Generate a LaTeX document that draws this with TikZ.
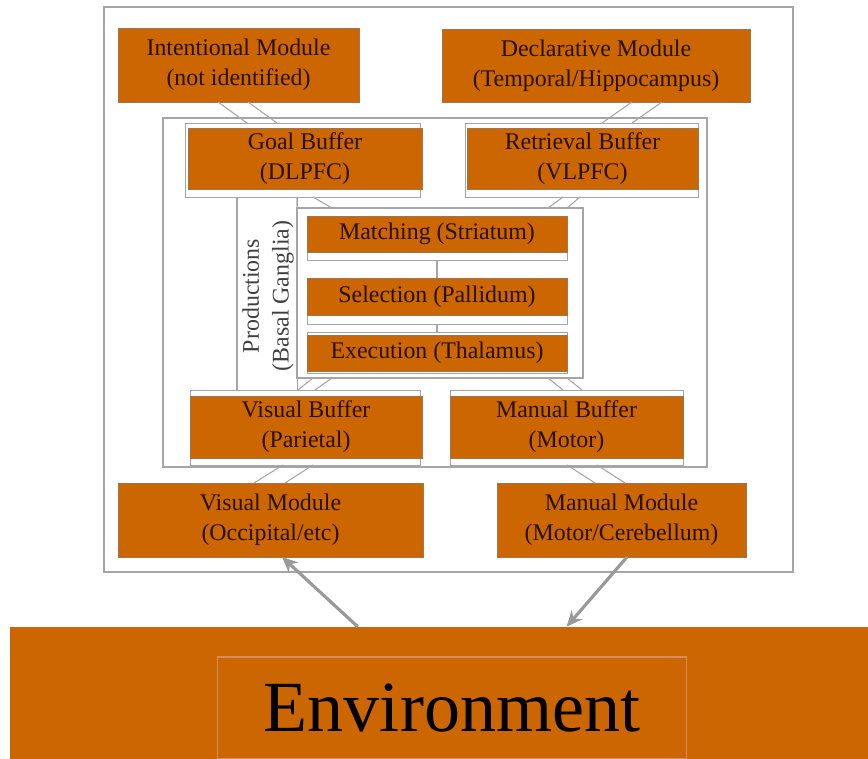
\documentclass[tikz,border=0pt]{standalone}
\usepackage{fontspec}
\setmainfont{Liberation Serif}
\usetikzlibrary{arrows.meta,positioning}
\definecolor{actr}{RGB}{204,102,0}
\definecolor{actrtext}{RGB}{40,16,6}
\definecolor{wire}{RGB}{165,165,165}
\definecolor{envline}{RGB}{214,142,96}
\tikzset{
  module/.style={draw=gray!60!actr, fill=actr, text=actrtext, align=center, inner sep=0pt, outer sep=0pt, font=\fontsize{13.6}{17}\selectfont},
  backbox/.style={draw=wire, fill=white, inner sep=0pt, outer sep=0pt},
  frame/.style={draw=wire, line width=0.9pt, inner sep=0pt, outer sep=0pt},
  link/.style={draw=wire, line width=0.6pt},
  flow/.style={draw=gray!80, line width=1.8pt, -{Stealth[length=9pt,width=8pt]}},
}

\begin{document}
\begin{tikzpicture}[x=0.02cm,y=-0.02cm]
\useasboundingbox (0,0) rectangle (868,759);

% frames
\node[frame, minimum width=13.78cm, minimum height=11.3cm] (outer) at (448.5,289.5) {};
\node[frame, minimum width=10.88cm, minimum height=6.98cm] (inner) at (435,292.5) {};

% modules
\node[module, minimum width=4.82cm, minimum height=1.48cm] (intent) at (238.5,65) {Intentional Module\\(not identified)};
\node[module, minimum width=6.16cm, minimum height=1.46cm] (decl) at (596,65.5) {Declarative Module\\(Temporal/Hippocampus)};
\node[module, minimum width=6.1cm, minimum height=1.48cm] (vism) at (270.5,520) {Visual Module\\(Occipital/etc)};
\node[module, minimum width=4.98cm, minimum height=1.48cm] (manm) at (621.5,520) {Manual Module\\(Motor/Cerebellum)};

% buffers
\node[backbox, minimum width=4.7cm, minimum height=1.48cm] (goalbk) at (302.5,160) {};
\node[module, minimum width=4.68cm, minimum height=1.22cm] (goal) at (305,158.5) {Goal Buffer\\(DLPFC)};
\node[backbox, minimum width=4.66cm, minimum height=1.48cm] (retrbk) at (581.5,160) {};
\node[module, minimum width=4.62cm, minimum height=1.22cm] (retr) at (582.5,158.5) {Retrieval Buffer\\(VLPFC)};
\node[backbox, minimum width=4.6cm, minimum height=1.5cm] (visbk) at (305,427.5) {};
\node[module, minimum width=4.64cm, minimum height=1.24cm] (visb) at (306,427) {Visual Buffer\\(Parietal)};
\node[backbox, minimum width=4.66cm, minimum height=1.5cm] (manbk) at (566.5,427.5) {};
\node[module, minimum width=4.66cm, minimum height=1.24cm] (manb) at (566.5,427) {Manual Buffer\\(Motor)};

% productions
\node[frame, minimum width=5.72cm, minimum height=3.4cm] (prods) at (440,293) {};
\draw[link] (goalbk.south -| prods.west) -- (visbk.north -| prods.west);
\draw[link] ([xshift=1.04cm]goalbk.south west) -- ([xshift=1.04cm]goalbk.south west |- visbk.north);
\node[rotate=90, align=center, text=black!75, font=\fontsize{13.6}{17}\selectfont] (prodlabel) at (268,296) {Productions\\(Basal Ganglia)};
\node[backbox, minimum width=5.2cm, minimum height=0.88cm] (matchbk) at (437,238) {};
\node[backbox, minimum width=5.2cm, minimum height=0.82cm] (execbk) at (437,352.5) {};
\draw[link] (matchbk.south) -- (execbk.north);
\node[backbox, minimum width=5.2cm, minimum height=0.92cm] (selbk) at (437,301) {};
\node[module, minimum width=5.2cm, minimum height=0.72cm] (match) at (437,234) {Matching (Striatum)};
\node[module, minimum width=5.2cm, minimum height=0.74cm] (sel) at (437,296.5) {Selection (Pallidum)};
\node[module, minimum width=5.2cm, minimum height=0.72cm] (exec) at (437,353) {Execution (Thalamus)};

% double links
\foreach \a/\b in {2/1.24, 2.6/1.84} \draw[link] ([xshift=\a cm]intent.south west) -- ([xshift=\b cm]goalbk.north west);
\foreach \a/\b in {3.8/2.74, 4.4/3.34} \draw[link] ([xshift=\a cm]decl.south west) -- ([xshift=\b cm]retrbk.north west);
\foreach \a/\b in {2.24/0, 2.56/0.7} \draw[link] ([xshift=\a cm]goalbk.south west) -- ([xshift=\b cm]prods.north west);
\foreach \a/\b in {1.96/5.02, 2.3/5.4} \draw[link] ([xshift=\a cm]retrbk.south west) -- ([xshift=\b cm]prods.north west);
\foreach \a/\b in {0.32/2.16, 0.7/2.5} \draw[link] ([xshift=\a cm]prods.south west) -- ([xshift=\b cm]visbk.north west);
\foreach \a/\b in {5.02/2.26, 5.4/2.64} \draw[link] ([xshift=\a cm]prods.south west) -- ([xshift=\b cm]manbk.north west);
\foreach \a/\b in {1.86/2.72, 2.46/3.34} \draw[link] ([xshift=\a cm]visbk.south west) -- ([xshift=\b cm]vism.north west);
\foreach \a/\b in {2.34/1.96, 2.94/2.56} \draw[link] ([xshift=\a cm]manbk.south west) -- ([xshift=\b cm]manm.north west);

% environment
\node[fill=actr, inner sep=0pt, minimum width=17.16cm, minimum height=2.64cm] (env) at (439,693) {};
\node[draw=envline, line width=0.6pt, inner sep=0pt, minimum width=9.4cm, minimum height=2.04cm, font=\fontsize{41}{41}\selectfont] (envin) at (452,708) {Environment};
\draw[flow] ([xshift=6.96cm]env.north west) -- ([xshift=3.28cm]vism.south west);
\draw[flow] ([xshift=2.6cm]manm.south west) -- ([xshift=11.14cm]env.north west);
\end{tikzpicture}
\end{document}
